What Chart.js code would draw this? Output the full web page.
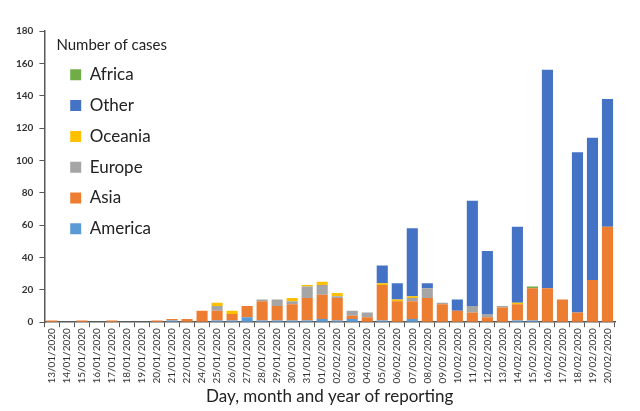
<!DOCTYPE html>
<html lang="en">
<head>
    <meta charset="UTF-8">
    <script src="https://cdn.jsdelivr.net/npm/chart.js@4.4.1/dist/chart.umd.min.js"></script>
    <title>Number of cases by day of reporting</title>
    <style>
        html, body {
            margin: 0;
            padding: 0;
            background: #fff;
        }

        #chart-container {
            position: relative;
            width: 640px;
            height: 411px;
        }
    </style>
</head>
<body>
    <div id="chart-container">
        <canvas id="casesChart"></canvas>
    </div>
    <script>
        const days = [
            '13/01/2020', '14/01/2020', '15/01/2020', '16/01/2020', '17/01/2020', '18/01/2020',
            '19/01/2020', '20/01/2020', '21/01/2020', '22/01/2020', '24/01/2020', '25/01/2020',
            '26/01/2020', '27/01/2020', '28/01/2020', '29/01/2020', '30/01/2020', '31/01/2020',
            '01/02/2020', '02/02/2020', '03/02/2020', '04/02/2020', '05/02/2020', '06/02/2020',
            '07/02/2020', '08/02/2020', '09/02/2020', '10/02/2020', '11/02/2020', '12/02/2020',
            '13/02/2020', '14/02/2020', '15/02/2020', '16/02/2020', '17/02/2020', '18/02/2020',
            '19/02/2020', '20/02/2020'
        ];

        // stacked from the bottom up
        const america = [0, 0, 0, 0, 0, 0, 0, 0, 1, 0, 0, 1, 1, 3, 1, 1, 1, 1, 2, 1, 2, 0, 1, 0, 2, 0, 0, 0, 0, 0, 0, 1, 1, 0, 0, 0, 0, 0];
        const asia = [1, 0, 1, 0, 1, 0, 0, 1, 1, 2, 7, 6, 4, 7, 12, 9, 10, 14, 15, 14, 2, 3, 22, 13, 11, 15, 11, 7, 6, 3, 9, 10, 20, 21, 14, 6, 26, 59];
        const europe = [0, 0, 0, 0, 0, 0, 0, 0, 0, 0, 0, 3, 0, 0, 1, 4, 2, 7, 6, 1, 3, 3, 0, 0, 2, 6, 1, 0, 4, 2, 1, 0, 0, 0, 0, 0, 0, 0];
        const oceania = [0, 0, 0, 0, 0, 0, 0, 0, 0, 0, 0, 2, 2, 0, 0, 0, 2, 1, 2, 2, 0, 0, 1, 1, 1, 0, 0, 0, 0, 0, 0, 1, 0, 0, 0, 0, 0, 0];
        const other = [0, 0, 0, 0, 0, 0, 0, 0, 0, 0, 0, 0, 0, 0, 0, 0, 0, 0, 0, 0, 0, 0, 11, 10, 42, 3, 0, 7, 65, 39, 0, 47, 0, 135, 0, 99, 88, 79];
        const africa = [0, 0, 0, 0, 0, 0, 0, 0, 0, 0, 0, 0, 0, 0, 0, 0, 0, 0, 0, 0, 0, 0, 0, 0, 0, 0, 0, 0, 0, 0, 0, 0, 1, 0, 0, 0, 0, 0];

        const yTicks = [0, 20, 40, 60, 80, 100, 120, 140, 160, 180];

        const fontFamily = 'Lato, "Open Sans", sans-serif';

        function series(label, data, color) {
            return {
                label,
                data,
                backgroundColor: color,
                borderWidth: 0,
                categoryPercentage: 1,
                barPercentage: 0.74
            };
        }

        // the legend sits inside the plot, just right of the y axis
        const legendInside = {
            id: 'legendInside',
            afterLayout(chart) {
                const legend = chart.legend;
                const dx = chart.chartArea.left + 12 - legend.left;
                const dy = chart.chartArea.top + 2.5 - legend.top;
                legend.left += dx;
                legend.right += dx;
                legend.top += dy;
                legend.bottom += dy;
            }
        };

        const ctx = document.getElementById('casesChart').getContext('2d');

        new Chart(ctx, {
            type: 'bar',
            data: {
                labels: days,
                datasets: [
                    series('America', america, '#5B9BD5'),
                    series('Asia', asia, '#ED7D31'),
                    series('Europe', europe, '#A5A5A5'),
                    series('Oceania', oceania, '#FFC000'),
                    series('Other', other, '#4472C4'),
                    series('Africa', africa, '#70AD47'),
                ]
            },
            plugins: [legendInside],
            options: {
                responsive: true,
                maintainAspectRatio: false,
                animation: false,
                layout: {
                    padding: { left: 10, right: 25, top: 31, bottom: 4 }
                },
                scales: {
                    x: {
                        stacked: true,
                        border: { color: '#595959', width: 1.5 },
                        grid: { display: true, drawOnChartArea: false, color: '#595959', tickLength: 5 },
                        ticks: {
                            autoSkip: false,
                            maxRotation: 90,
                            minRotation: 90,
                            padding: 1,
                            color: '#333',
                            font: { family: fontFamily, size: 10 }
                        },
                        title: {
                            display: true,
                            text: 'Day, month and year of reporting',
                            color: '#222',
                            padding: { top: 2, bottom: 0 },
                            font: { family: fontFamily, size: 17 }
                        }
                    },
                    y: {
                        stacked: true,
                        min: 0,
                        max: 180,
                        afterBuildTicks: axis => {
                            axis.ticks = yTicks.map(value => ({ value }));
                        },
                        border: { color: '#595959', width: 1.5 },
                        grid: { display: true, drawOnChartArea: false, color: '#595959', tickLength: 5 },
                        ticks: {
                            padding: 6,
                            color: '#333',
                            font: { family: fontFamily, size: 10, weight: 'bold' }
                        }
                    }
                },
                plugins: {
                    tooltip: { enabled: false },
                    legend: {
                        position: 'chartArea',
                        align: 'start',
                        reverse: true,
                        title: {
                            display: true,
                            text: 'Number of cases',
                            color: '#222',
                            position: 'start',
                            padding: { top: 4, bottom: -3 },
                            font: { family: fontFamily, size: 15 }
                        },
                        labels: {
                            boxWidth: 11,
                            boxHeight: 11,
                            padding: 13.8,
                            color: '#222',
                            font: { family: fontFamily, size: 17 }
                        }
                    }
                }
            }
        });
    </script>
</body>
</html>
